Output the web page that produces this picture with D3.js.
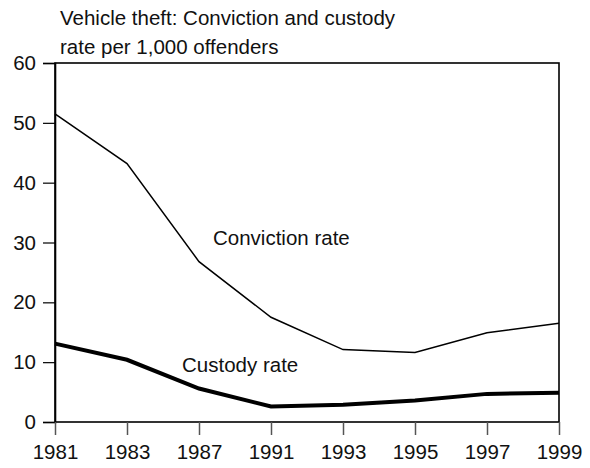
<!DOCTYPE html>
<html><head><meta charset="utf-8">
<script src="https://cdn.jsdelivr.net/npm/d3@7"></script>
<style>body{margin:0;background:#fff}svg{display:block}text{font-family:"Liberation Sans",Arial,sans-serif;fill:#111}</style>
</head><body><svg id="c" width="590" height="468"></svg>
<script>
const years = ["1981","1983","1987","1991","1993","1995","1997","1999"];
const conviction = [51.5, 43.2, 26.8, 17.5, 12.1, 11.6, 14.9, 16.5];
const custody = [13.1, 10.4, 5.6, 2.6, 2.9, 3.6, 4.7, 4.9];
const yTicks = [0, 10, 20, 30, 40, 50, 60];
const titleLines = ["Vehicle theft: Conviction and custody", "rate per 1,000 offenders"];
const seriesLabels = ["Conviction rate", "Custody rate"];

const svg = d3.select("#c");
const m = {left:55, right:559, top:63, bottom:422};
const x = d3.scalePoint().domain(years).range([m.left, m.right]);
const y = d3.scaleLinear().domain([0,60]).range([m.bottom, m.top]);
const fs = "20.5px";

svg.append("rect").attr("x", m.left).attr("y", m.top).attr("width", m.right-m.left).attr("height", m.bottom-m.top)
  .attr("fill","none").attr("stroke","#000").attr("stroke-width",1.6);

const ya = svg.append("g").attr("transform",`translate(${m.left},0)`)
  .call(d3.axisLeft(y).tickValues(yTicks).tickSize(12).tickPadding(7));
ya.select(".domain").attr("stroke","#000").attr("stroke-width",1.6);
ya.selectAll(".tick line").attr("stroke","#000").attr("stroke-width",1.2);
ya.selectAll("text").style("font-size",fs).style("font-family","Liberation Sans, Arial").attr("fill","#111");

const xa = svg.append("g").attr("transform",`translate(0,${m.bottom})`)
  .call(d3.axisBottom(x).tickSize(13).tickPadding(9));
xa.select(".domain").remove();
xa.selectAll(".tick line").attr("stroke","#555").attr("stroke-width",1.5);
xa.selectAll("text").style("font-size",fs).style("font-family","Liberation Sans, Arial").attr("fill","#111");

const line = d3.line().x((d,i)=>x(years[i])).y(d=>y(d));
svg.append("path").datum(conviction).attr("d",line).attr("fill","none").attr("stroke","#000").attr("stroke-width",1.5);
svg.append("path").datum(custody).attr("d",line).attr("fill","none").attr("stroke","#000").attr("stroke-width",4);

svg.append("text").attr("x", 213).attr("y", 245).style("font-size",fs).text(seriesLabels[0]);
svg.append("text").attr("x", 182).attr("y", 372).style("font-size",fs).text(seriesLabels[1]);

svg.selectAll("text.title").data(titleLines).join("text").attr("class","title")
  .attr("x", 60).attr("y",(d,i)=>25+i*28.5).style("font-size",fs).text(d=>d);
</script></body></html>
